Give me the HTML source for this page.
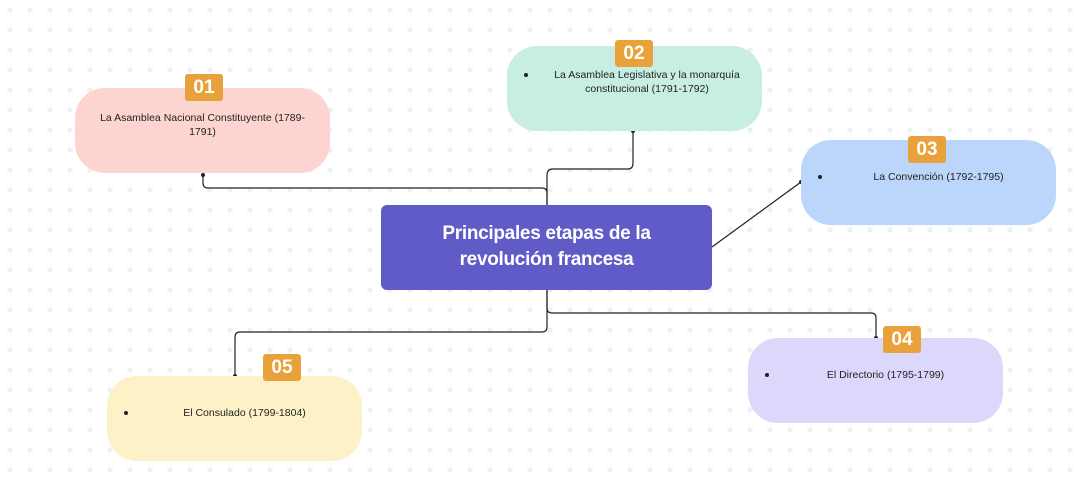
<!DOCTYPE html>
<html><head><meta charset="utf-8"><style>
body{margin:0;width:1080px;height:486px;overflow:hidden;background:#fff;background-image:radial-gradient(circle,#eef0f3 2.6px,transparent 3px);background-size:20px 20px;background-position:0 0;font-family:"Liberation Sans",sans-serif;position:relative}
.n{position:absolute;width:255px;height:85px;border-radius:30px;font-size:10.5px;color:#222;text-align:center}
.b{position:absolute;background:#e9a23b;color:#fff;font-weight:bold;font-size:19px;border-radius:3px;text-align:center;line-height:27px;height:27px;width:38px}
.dot{position:absolute;width:4px;height:4px;border-radius:2px;background:#222}
.c{position:absolute;left:381px;top:205px;width:331px;height:85px;background:#605bc6;border-radius:6px;color:#fff;font-weight:bold;font-size:19px;letter-spacing:-0.3px;text-align:center;line-height:26px;box-sizing:border-box;padding-top:16px}
</style></head><body>
<svg width="1080" height="486" style="position:absolute;left:0;top:0" fill="none" stroke="#222" stroke-width="1.2">
<path d="M547 205 V193 Q547 188 542 188 H208 Q203 188 203 183 V176"/>
<path d="M547 205 V175 Q547 169 553 169 H628 Q633 169 633 163 V132"/>
<path d="M712 247 L801 182"/>
<path d="M547 290 V308 Q547 313 552 313 H871 Q876 313 876 318 V337"/>
<path d="M547 290 V327 Q547 332 542 332 H240 Q235 332 235 337 V375"/>
<g fill="#222" stroke="none"><circle cx="203" cy="175" r="2"/><circle cx="633" cy="131" r="2"/><circle cx="801" cy="182" r="2"/><circle cx="876" cy="338" r="2"/><circle cx="235" cy="376" r="2"/></g>
</svg>
<div class="n" style="left:75px;top:88px;background:#fdd5d0"><div style="padding:23px 10px 0;line-height:14px">La Asamblea Nacional Constituyente (1789-<br>1791)</div></div>
<div class="b" style="left:185px;top:74px">01</div>
<div class="n" style="left:507px;top:46px;background:#c8ede3"><div class="dot" style="left:17px;top:27px"></div><div style="padding:22px 10px 0 35px;line-height:14px">La Asamblea Legislativa y la monarquía<br>constitucional (1791-1792)</div></div>
<div class="b" style="left:615px;top:40px">02</div>
<div class="n" style="left:801px;top:140px;background:#bcd6fb"><div class="dot" style="left:17px;top:35px"></div><div style="padding:30px 0 0 20px;line-height:14px">La Convención (1792-1795)</div></div>
<div class="b" style="left:908px;top:136px">03</div>
<div class="n" style="left:748px;top:338px;background:#dcd8fb"><div class="dot" style="left:17px;top:35px"></div><div style="padding:30px 0 0 20px;line-height:14px">El Directorio (1795-1799)</div></div>
<div class="b" style="left:883px;top:326px">04</div>
<div class="n" style="left:107px;top:376px;background:#fdf2c7"><div class="dot" style="left:17px;top:35px"></div><div style="padding:30px 0 0 20px;line-height:14px">El Consulado (1799-1804)</div></div>
<div class="b" style="left:263px;top:354px">05</div>
<div class="c">Principales etapas de la<br>revolución francesa</div>
</body></html>
